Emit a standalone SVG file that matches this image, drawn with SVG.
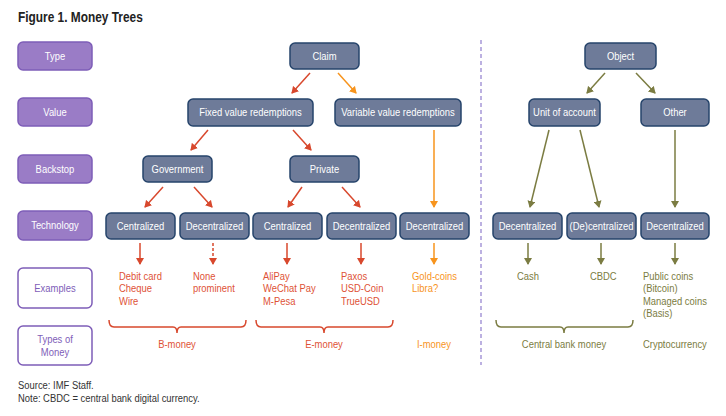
<svg xmlns="http://www.w3.org/2000/svg" width="726" height="416" viewBox="0 0 726 416">
<defs>
<style>
text{font-family:"Liberation Sans",Arial,sans-serif;transform:scaleX(0.82);}
.lbl rect{fill:#9a7cc6;stroke:#7e5db8;stroke-width:1.5;}
.lbl text{fill:#ffffff;font-size:11.5px;text-anchor:middle;}
.lblo rect{fill:#ffffff;stroke:#7e5db8;stroke-width:1.5;}
.lblo text{fill:#7e5db8;font-size:11.5px;text-anchor:middle;}
.nd rect{fill:#6e7b99;stroke:#26446b;stroke-width:1.5;}
.nd text{fill:#ffffff;font-size:11.5px;text-anchor:middle;}
.r{stroke:#d8482d;stroke-width:1.5;fill:none;marker-end:url(#mr);}
.o{stroke:#f7941d;stroke-width:1.5;fill:none;marker-end:url(#mo);}
.g{stroke:#7b7c42;stroke-width:1.5;fill:none;marker-end:url(#mg);}
.br{stroke:#d8482d;stroke-width:1.5;fill:none;}
.bo{stroke:#7b7c42;stroke-width:1.5;fill:none;}
.tr{fill:#de5236;font-size:11.5px;}
.to{fill:#f7941d;font-size:11.5px;}
.tg{fill:#7b7c42;font-size:11.5px;}
.src{fill:#333333;font-size:11.5px;}
</style>
<marker id="mr" markerWidth="8" markerHeight="8" refX="6" refY="4" orient="auto" markerUnits="userSpaceOnUse"><path d="M0,0 L7,4 L0,8 Z" fill="#d8482d"/></marker>
<marker id="mo" markerWidth="8" markerHeight="8" refX="6" refY="4" orient="auto" markerUnits="userSpaceOnUse"><path d="M0,0 L7,4 L0,8 Z" fill="#f7941d"/></marker>
<marker id="mg" markerWidth="8" markerHeight="8" refX="6" refY="4" orient="auto" markerUnits="userSpaceOnUse"><path d="M0,0 L7,4 L0,8 Z" fill="#7b7c42"/></marker>
</defs>
<rect width="726" height="416" fill="#ffffff"/>
<text x="21.95" y="22" font-size="14.5" font-weight="bold" fill="#222222">Figure 1. Money Trees</text>

<g id="label-type" class="lbl"><rect x="18" y="42" width="74" height="28" rx="5"/><text x="67.07" y="60">Type</text></g>
<g id="label-value" class="lbl"><rect x="18" y="98" width="74" height="28" rx="5"/><text x="67.07" y="116">Value</text></g>
<g id="label-backstop" class="lbl"><rect x="18" y="155" width="74" height="28" rx="5"/><text x="67.07" y="173">Backstop</text></g>
<g id="label-technology" class="lbl"><rect x="18" y="211" width="74" height="29" rx="5"/><text x="67.07" y="229.5">Technology</text></g>
<g id="label-examples" class="lblo"><rect x="18" y="268" width="74" height="40" rx="5"/><text x="67.07" y="292">Examples</text></g>
<g id="label-types" class="lblo"><rect x="18" y="326" width="74" height="39" rx="5"/><text x="67.07" y="343">Types of</text><text x="67.07" y="356">Money</text></g>

<line x1="481" y1="40" x2="481" y2="365" stroke="#a698d8" stroke-width="1.5" stroke-dasharray="4,3"/>

<g id="claim" class="nd"><rect x="290" y="43" width="69" height="26" rx="5"/><text x="395.73" y="60">Claim</text></g>
<g id="fixed" class="nd"><rect x="188" y="99" width="125" height="27" rx="5"/><text x="305.49" y="116.5">Fixed value redemptions</text></g>
<g id="variable" class="nd"><rect x="335" y="99" width="126" height="27" rx="5"/><text x="485.37" y="116.5">Variable value redemptions</text></g>
<g id="government" class="nd"><rect x="143" y="156" width="69" height="26" rx="5"/><text x="216.46" y="173">Government</text></g>
<g id="private" class="nd"><rect x="290" y="156" width="69" height="26" rx="5"/><text x="395.73" y="173">Private</text></g>
<g id="tech-b-central" class="nd"><rect x="106" y="213" width="69" height="26" rx="5"/><text x="171.34" y="230">Centralized</text></g>
<g id="tech-b-decentral" class="nd"><rect x="180" y="213" width="69" height="26" rx="5"/><text x="261.59" y="230">Decentralized</text></g>
<g id="tech-e-central" class="nd"><rect x="253" y="213" width="69" height="26" rx="5"/><text x="350.61" y="230">Centralized</text></g>
<g id="tech-e-decentral" class="nd"><rect x="327" y="213" width="69" height="26" rx="5"/><text x="440.85" y="230">Decentralized</text></g>
<g id="tech-i-decentral" class="nd"><rect x="400" y="213" width="69" height="26" rx="5"/><text x="529.88" y="230">Decentralized</text></g>
<g id="object" class="nd"><rect x="585" y="43" width="71" height="26" rx="5"/><text x="756.71" y="60">Object</text></g>
<g id="unit" class="nd"><rect x="529" y="99" width="71" height="27" rx="5"/><text x="688.41" y="116.5">Unit of account</text></g>
<g id="other" class="nd"><rect x="641" y="99" width="68" height="27" rx="5"/><text x="823.17" y="116.5">Other</text></g>
<g id="tech-cash" class="nd"><rect x="493" y="213" width="69" height="26" rx="5"/><text x="643.29" y="230">Decentralized</text></g>
<g id="tech-cbdc" class="nd"><rect x="567" y="213" width="69" height="26" rx="5"/><text x="733.54" y="230">(De)centralized</text></g>
<g id="tech-crypto" class="nd"><rect x="641" y="213" width="68" height="26" rx="5"/><text x="823.17" y="230">Decentralized</text></g>

<g id="connectors">
<line class="r" x1="310" y1="73" x2="292" y2="93"/>
<line class="o" x1="338" y1="73" x2="356" y2="93"/>
<line class="r" x1="208" y1="130" x2="191" y2="150"/>
<line class="r" x1="293" y1="130" x2="311" y2="150"/>
<line class="o" x1="434" y1="130" x2="434" y2="207"/>
<line class="r" x1="163" y1="187" x2="145" y2="207"/>
<line class="r" x1="194" y1="187" x2="212" y2="207"/>
<line class="r" x1="302" y1="187" x2="288" y2="207"/>
<line class="r" x1="342" y1="187" x2="360" y2="207"/>
<line class="g" x1="605" y1="73" x2="587" y2="93"/>
<line class="g" x1="636" y1="73" x2="655" y2="93"/>
<line class="g" x1="549" y1="130" x2="530" y2="207"/>
<line class="g" x1="580" y1="130" x2="599" y2="207"/>
<line class="g" x1="675" y1="130" x2="675" y2="207"/>
<line class="r" x1="140" y1="243" x2="140" y2="264"/>
<line class="r" x1="213" y1="243" x2="213" y2="264" stroke-dasharray="3,2"/>
<line class="r" x1="287" y1="243" x2="287" y2="264"/>
<line class="r" x1="361" y1="243" x2="361" y2="264"/>
<line class="o" x1="434" y1="243" x2="434" y2="264"/>
<line class="g" x1="528" y1="243" x2="528" y2="264"/>
<line class="g" x1="601" y1="243" x2="601" y2="264"/>
<line class="g" x1="675" y1="243" x2="675" y2="264"/>
</g>

<g id="examples">
<text class="tr" x="145.12" y="280">Debit card</text>
<text class="tr" x="145.12" y="292.5">Cheque</text>
<text class="tr" x="145.12" y="305">Wire</text>
<text class="tr" x="235.37" y="280">None</text>
<text class="tr" x="235.37" y="292.5">prominent</text>
<text class="tr" x="320.73" y="280">AliPay</text>
<text class="tr" x="320.73" y="292.5">WeChat Pay</text>
<text class="tr" x="320.73" y="305">M-Pesa</text>
<text class="tr" x="415.85" y="280">Paxos</text>
<text class="tr" x="415.85" y="292.5">USD-Coin</text>
<text class="tr" x="415.85" y="305">TrueUSD</text>
<text class="to" x="502.44" y="280">Gold-coins</text>
<text class="to" x="502.44" y="292.5">Libra?</text>
<text class="tg" x="630.49" y="280">Cash</text>
<text class="tg" x="719.51" y="280">CBDC</text>
<text class="tg" x="784.15" y="280">Public coins</text>
<text class="tg" x="784.15" y="292.5">(Bitcoin)</text>
<text class="tg" x="784.15" y="305">Managed coins</text>
<text class="tg" x="784.15" y="317.5">(Basis)</text>
</g>

<g id="braces">
<path class="br" d="M109,320 Q109,327 114,327 H173 Q177,327 177,333 Q177,327 181,327 H241 Q246,327 246,320"/>
<path class="br" d="M256,320 Q256,327 261,327 H320 Q324,327 324,333 Q324,327 328,327 H388 Q393,327 393,320"/>
<path class="bo" d="M496,320 Q496,327 501,327 H560 Q564,327 564,333 Q564,327 568,327 H628 Q633,327 633,320"/>
</g>

<g id="money-types">
<text class="tr" x="215.85" y="348" text-anchor="middle">B-money</text>
<text class="tr" x="395.12" y="348" text-anchor="middle">E-money</text>
<text class="to" x="529.27" y="348" text-anchor="middle">I-money</text>
<text class="tg" x="687.80" y="348" text-anchor="middle">Central bank money</text>
<text class="tg" x="784.15" y="348">Cryptocurrency</text>
</g>

<text class="src" x="21.95" y="389">Source: IMF Staff.</text>
<text class="src" x="21.95" y="402">Note: CBDC = central bank digital currency.</text>
</svg>
